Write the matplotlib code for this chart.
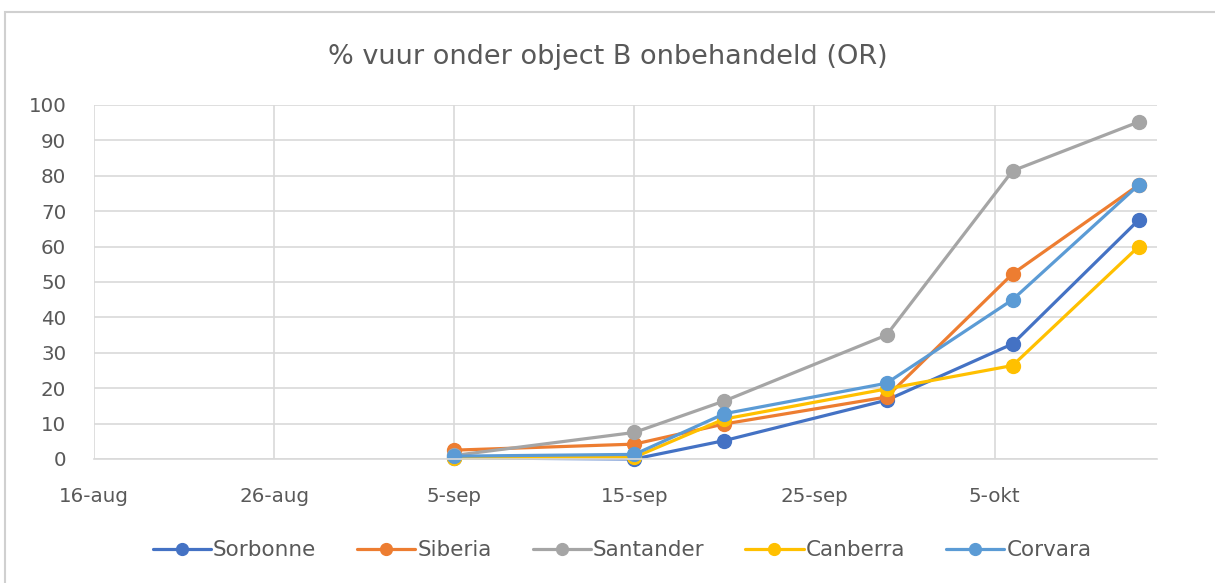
import matplotlib
matplotlib.use("Agg")
import matplotlib.pyplot as plt
from matplotlib.patches import Rectangle
from datetime import datetime

# data
datums = [datetime(2020, 9, 5), datetime(2020, 9, 15), datetime(2020, 9, 20),
          datetime(2020, 9, 29), datetime(2020, 10, 6), datetime(2020, 10, 13)]
sorbonne = [0.3, 0.0, 5.2, 16.6, 32.5, 67.5]
siberia = [2.5, 4.2, 9.9, 17.5, 52.3, 77.4]
santander = [1.0, 7.5, 16.4, 35.0, 81.4, 95.2]
canberra = [0.3, 0.5, 11.3, 19.8, 26.4, 60.0]
corvara = [0.8, 1.3, 12.8, 21.4, 45.0, 77.4]

namen = ["Sorbonne", "Siberia", "Santander", "Canberra", "Corvara"]
kleuren = ["#4472C4", "#ED7D31", "#A5A5A5", "#FFC000", "#5B9BD5"]
reeksen = [sorbonne, siberia, santander, canberra, corvara]

tick_datums = [datetime(2020, 8, 16), datetime(2020, 8, 26), datetime(2020, 9, 5),
               datetime(2020, 9, 15), datetime(2020, 9, 25), datetime(2020, 10, 5)]
tick_labels = ["16-aug", "26-aug", "5-sep", "15-sep", "25-sep", "5-okt"]

plt.rcParams['font.family'] = ['DejaVu Sans']
tekst = "#595959"
grid = "#D9D9D9"

fig = plt.figure(figsize=(12.15, 5.83), dpi=100)
# rand om de grafiek
fig.patches.append(Rectangle((0.004, -0.01), 1.2, 0.99, transform=fig.transFigure,
                             fill=False, edgecolor="#D0D0D0", linewidth=1.5))

ax = fig.add_axes([0.0774, 0.2127, 0.8746, 0.6073])
for naam, kleur, y in zip(namen, kleuren, reeksen):
    ax.plot(datums, y, color=kleur, linewidth=2.3, marker="o", markersize=10,
            label=naam, solid_capstyle="round", clip_on=False)

ax.set_xlim(datetime(2020, 8, 16), datetime(2020, 10, 14))
ax.set_ylim(0, 100)
ax.set_xticks(tick_datums)
ax.set_xticklabels(tick_labels)
ax.set_yticks(range(0, 101, 10))
ax.tick_params(axis="both", length=0, labelsize=14.3, colors=tekst)
ax.tick_params(axis="x", pad=20)
ax.tick_params(axis="y", pad=20)
ax.grid(True, color=grid, linewidth=1.2)
ax.set_axisbelow(True)
for s in ["top", "right", "left"]:
    ax.spines[s].set_visible(False)
ax.spines["bottom"].set_color(grid)
ax.spines["bottom"].set_linewidth(1.2)

fig.text(0.5, 0.902, "% vuur onder object B onbehandeld (OR)", ha="center", va="center",
         fontsize=19.5, color=tekst)

ax.legend(loc="center", bbox_to_anchor=(0.512, 0.056), bbox_transform=fig.transFigure,
          ncol=5, frameon=False, fontsize=15.5, labelcolor=tekst, handlelength=2.7,
          handletextpad=0.1, columnspacing=1.9, markerscale=0.85)

fig.savefig("out.png", dpi=100)
